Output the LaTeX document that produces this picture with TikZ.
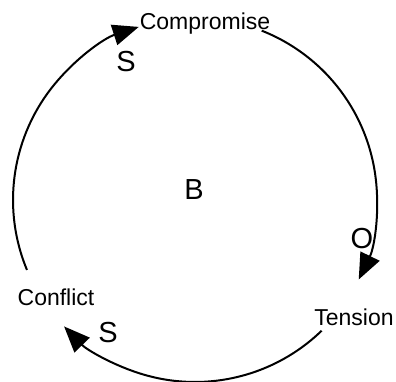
\documentclass[tikz,border=0pt]{standalone}
\usepackage{fontspec}
\setmainfont{Liberation Sans}
\usetikzlibrary{arrows.meta,calc}
\begin{document}
\begin{tikzpicture}[x=1pt,y=1pt,
  lbl/.style={inner sep=0pt,anchor=base,font=\fontsize{23}{25}\selectfont},
  pol/.style={inner sep=0pt,anchor=base,font=\fontsize{29}{31}\selectfont},
  link/.style={line width=2pt,-{Triangle[length=26pt,width=21pt]}}]
\useasboundingbox (0,0) rectangle (396,-382);
\coordinate (c) at (195,-200);
% labels
\node[lbl] (comp) at (205,-30) {Compromise};
\node[lbl] (tens) at (354,-325) {Tension};
\node[lbl] (conf) at (56,-305) {Conflict};
\node[pol] (s1) at (126,-72) {S};
\node[pol] (o1) at (362,-248) {O};
\node[pol] (s2) at (108,-342) {S};
\node[pol] (b) at (194,-200) {B};
% arc start points
\coordinate (a1) at ($(c)+(68.5:182)$);
\coordinate (a2) at ($(c)+(-45.9:182)$);
\coordinate (a3) at ($(c)+(202.6:182)$);
% connectors
\draw[link] (a1) arc[start angle=68.5,end angle=-25.9,radius=182];
\draw[link] (a2) arc[start angle=-45.9,end angle=-136,radius=182];
\draw[link] (a3) arc[start angle=202.6,end angle=108,radius=182];
\end{tikzpicture}
\end{document}
